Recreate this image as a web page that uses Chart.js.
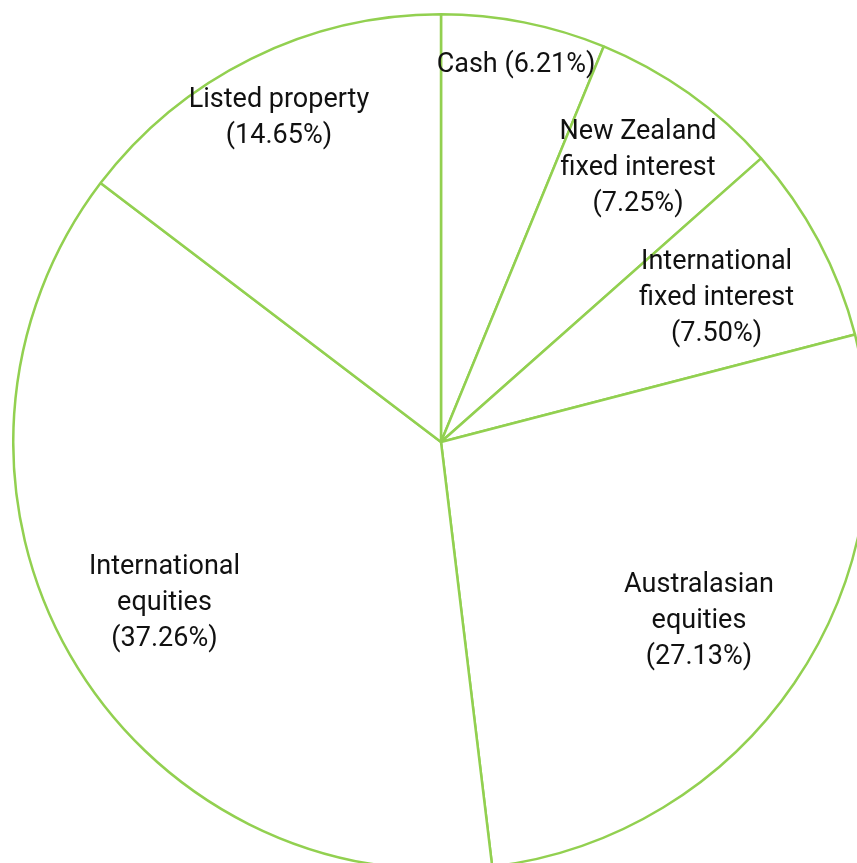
<!DOCTYPE html>
<html>
<head>
<meta charset="utf-8">
<script src="https://cdn.jsdelivr.net/npm/chart.js@4/dist/chart.umd.min.js"></script>
<style>
  html, body { margin: 0; padding: 0; background: #fff; overflow: hidden; width: 857px; height: 863px; }
  #wrap { position: absolute; left: 12px; top: 13px; width: 858px; height: 858px; }
</style>
</head>
<body>
<div id="wrap"><canvas id="pieChart"></canvas></div>
<script>
// Asset classes, clockwise from 12 o'clock
const categories = [
  'Cash',
  'New Zealand fixed interest',
  'International fixed interest',
  'Australasian equities',
  'International equities',
  'Listed property'
];
const shares = [6.21, 7.25, 7.50, 27.13, 37.26, 14.65];

// label text as it wraps on the chart
const labelText = [
  'Cash (6.21%)',
  'New Zealand\nfixed interest\n(7.25%)',
  'International\nfixed interest\n(7.50%)',
  'Australasian\nequities\n(27.13%)',
  'International\nequities\n(37.26%)',
  'Listed property\n(14.65%)'
];

// how far out along each slice the label sits (fraction of radius)
const labelRadius = [0.905, 0.795, 0.73, 0.73, 0.745, 0.853];

const GREEN = '#92d050';

// Draw the labels inside each slice
const sliceLabels = {
  id: 'sliceLabels',
  afterDatasetsDraw(chart) {
    const ctx = chart.ctx;
    const arcs = chart.getDatasetMeta(0).data;
    ctx.save();
    ctx.font = '27px Roboto';
    ctx.fillStyle = '#111111';
    ctx.textAlign = 'center';
    ctx.textBaseline = 'middle';
    arcs.forEach((arc, i) => {
      const mid = (arc.startAngle + arc.endAngle) / 2;
      const r = arc.outerRadius * labelRadius[i];
      const cx = arc.x + Math.cos(mid) * r;
      const cy = arc.y + Math.sin(mid) * r + 3;
      const lines = labelText[i].split('\n');
      const lh = 36;
      lines.forEach((line, j) => {
        ctx.fillText(line, cx, cy + (j - (lines.length - 1) / 2) * lh);
      });
    });
    ctx.restore();
  }
};

const chart = new Chart(document.getElementById('pieChart'), {
  type: 'pie',
  data: {
    labels: categories,
    datasets: [{
      data: shares,
      backgroundColor: '#ffffff',
      borderColor: GREEN,
      borderWidth: 2.5,
      borderAlign: 'center'
    }]
  },
  options: {
    responsive: true,
    maintainAspectRatio: false,
    animation: false,
    layout: { padding: 0 },
    plugins: {
      legend: { display: false },
      tooltip: { enabled: false }
    }
  },
  plugins: [sliceLabels]
});
</script>
</body>
</html>
